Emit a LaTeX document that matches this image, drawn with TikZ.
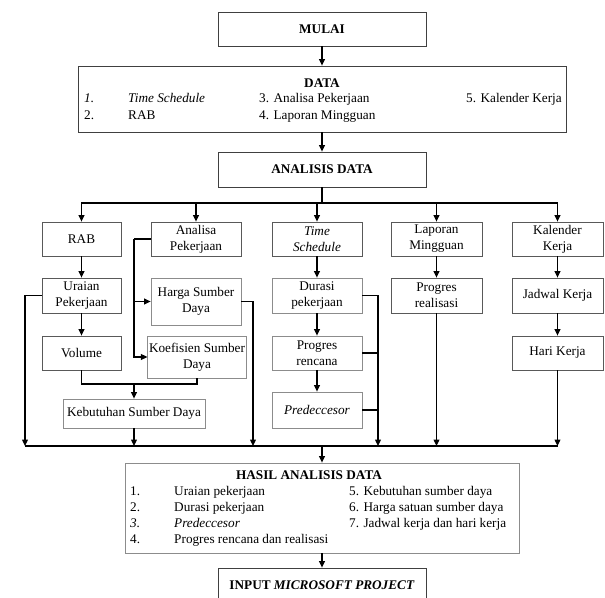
\documentclass[tikz,border=0pt]{standalone}
\usepackage{fontspec}
\setmainfont{Liberation Serif}
\usetikzlibrary{
    arrows.meta,
    positioning
}

\begin{document}
\begin{tikzpicture} [
    x=0.03cm, y=-0.03cm,
    every node/.style = {font=\fontsize{11.3}{13.6}\selectfont},
    box/.style = {draw=black!75, line width=0.7pt, align=center, inner sep=1pt},
    cbox/.style = {box, draw=black!65},
    lbox/.style = {box, draw=black!45},
    sz/.style 2 args = {minimum width=#1*0.03cm, minimum height=#2*0.03cm},
    txt/.style = {inner sep=0pt, anchor=base west},
    arr/.style = {-{Triangle[length=5.5pt,width=5pt]}},
    line/.style = {line width=0.9pt}
]
    \useasboundingbox (0,0) rectangle (605,598);
    \clip (0,0) rectangle (605,598);

    % top part
    \node[box, sz={208}{34}] (mulai) at (322,29) {\textbf{MULAI}};
    \node[box, sz={488}{66}] (data) at (322,99) {};
    \node[box, sz={208}{35}] (an) at (322,169.5) {\textbf{ANALISIS DATA}};

    \node[inner sep=0pt, anchor=base] (dt) at (322,88) {\textbf{DATA}};
    \node[txt] (d1n) at (84,103) {\textit{1.}};
    \node[txt] (d1) at (128,103) {\textit{Time Schedule}};
    \node[txt] (d3) at (259,103) {3. Analisa Pekerjaan};
    \node[txt] (d5) at (466,103) {5. Kalender Kerja};
    \node[txt] (d2n) at (84,120) {2.};
    \node[txt] (d2) at (128,120) {RAB};
    \node[txt] (d4) at (259,120) {4. Laporan Mingguan};

    % columns
    \node[cbox, sz={79}{34}] (rab) at (81.5,239) {RAB};
    \node[cbox, sz={90}{34}] (ap) at (196,239) {Analisa\\Pekerjaan};
    \node[cbox, sz={90}{34}] (ts) at (317,239) {\textit{Time}\\\textit{Schedule}};
    \node[cbox, sz={91}{34}] (lm) at (436.5,239) {Laporan\\Mingguan};
    \node[cbox, sz={91}{34}] (kk) at (557.5,239) {Kalender\\Kerja};

    \node[cbox, sz={79}{35}] (ur) at (81.5,295.5) {Uraian\\Pekerjaan};
    \node[lbox, sz={90}{47}] (hs) at (196,301.5) {Harga Sumber\\Daya};
    \node[lbox, sz={90}{35}] (du) at (317,295.5) {Durasi\\pekerjaan};
    \node[cbox, sz={91}{35}] (re) at (436.5,295.5) {Progres\\realisasi};
    \node[cbox, sz={91}{35}] (jk) at (557.5,295.5) {Jadwal Kerja};

    \node[cbox, sz={79}{34}] (vo) at (81.5,353) {Volume};
    \node[lbox, sz={98}{42}] (ks) at (197,357) {Koefisien Sumber\\Daya};
    \node[lbox, sz={90}{34}] (pr) at (317,353) {Progres\\rencana};
    \node[cbox, sz={91}{34}] (hk) at (557.5,353) {Hari Kerja};

    \node[lbox, sz={90}{36}] (pd) at (317,410) {\textit{Predeccesor}};
    \node[lbox, sz={142}{29}] (kb) at (134,413.5) {Kebutuhan Sumber Daya};

    % bottom part
    \node[lbox, sz={394}{90}] (ha) at (322,508) {};
    \node[inner sep=0pt, anchor=base] (ht) at (309,480) {\textbf{HASIL ANALISIS DATA}};
    \node[txt] (h1n) at (130,496) {1.};
    \node[txt] (h1) at (174,496) {Uraian pekerjaan};
    \node[txt] (h2n) at (130,512) {2.};
    \node[txt] (h2) at (174,512) {Durasi pekerjaan};
    \node[txt] (h3n) at (130,528) {\textit{3.}};
    \node[txt] (h3) at (174,528) {\textit{Predeccesor}};
    \node[txt] (h4n) at (130,544) {4.};
    \node[txt] (h4) at (174,544) {Progres rencana dan realisasi};
    \node[txt] (h5) at (349,496) {5. Kebutuhan sumber daya};
    \node[txt] (h6) at (349,512) {6. Harga satuan sumber daya};
    \node[txt] (h7) at (349,528) {7. Jadwal kerja dan hari kerja};

    \node[box, sz={208}{34}] (inp) at (322,585) {\textbf{INPUT \textit{MICROSOFT PROJECT}}};

    % connectors
    \coordinate (tb) at (322,203);
    \coordinate (bl) at (25,446);
    \coordinate (br) at (557.5,446);
    \coordinate (bh) at (253,446);
    \coordinate (bd) at (378,446);
    \coordinate (ja) at (134,239);
    \coordinate (jv) at (134,384);

    \draw[line, arr] (mulai) -- (data);
    \draw[line, arr] (data) -- (an);
    \draw[line] (an) -- (tb);
    \foreach \n in {rab,ap,ts,lm,kk}
        \draw[line, arr] (tb) -| (\n.north);

    \draw[line, arr] (rab) -- (ur);
    \draw[line, arr] (ur) -- (vo);
    \draw[line, arr] (ts) -- (du);
    \draw[line, arr] (du) -- (pr);
    \draw[line, arr] (pr) -- (pd);
    \draw[line, arr] (lm) -- (re);
    \draw[line, arr] (kk) -- (jk);
    \draw[line, arr] (jk) -- (hk);

    \draw[line] (ap.west) -- (ja);
    \draw[line, arr] (ja) |- (ks.west);
    \draw[line, arr] (ja |- hs.west) -- (hs.west);
    \draw[line] (vo.south) |- (jv) -| (ks.south);
    \draw[line, arr] (jv) -- (kb.north);

    \draw[line] (bl) -- (br);
    \draw[line, arr] (ur.west) -| (bl);
    \draw[line, arr] (kb.south) -- (kb.south |- bl);
    \draw[line, arr] (hs.east) -| (bh);
    \draw[line, arr] (du.east) -| (bd);
    \draw[line] (pr.east) -- (pr.east -| bd);
    \draw[line] (pd.east) -- (pd.east -| bd);
    \draw[line, arr] (re.south) -- (re.south |- bl);
    \draw[line, arr] (hk.south) -- (br);

    \draw[line, arr] (ha.north |- bl) -- (ha.north);
    \draw[line, arr] (ha) -- (inp);
\end{tikzpicture}
\end{document}
